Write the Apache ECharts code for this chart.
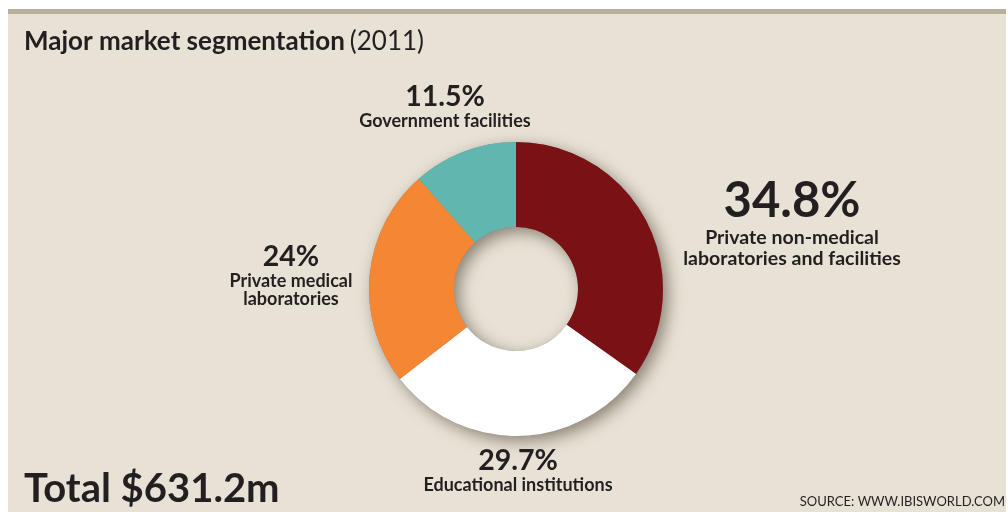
<!DOCTYPE html>
<html>
<head>
<meta charset="utf-8">
<script src="https://cdn.jsdelivr.net/npm/echarts@6/dist/echarts.min.js"></script>
<style>
  html, body { margin: 0; padding: 0; background: #ffffff; }
  #chart { width: 1008px; height: 514px; }
</style>
</head>
<body>
<div id="chart"></div>
<script>
// Market segments, shares in percent (2011)
const segments = ['Private non-medical\nlaboratories and facilities', 'Educational institutions', 'Private medical\nlaboratories', 'Government facilities'];
const shares = [34.8, 29.7, 24, 11.5];
const segmentColors = ['#7a1114', '#ffffff', '#f58634', '#62b6b0'];
const totalLabel = 'Total $631.2m';
const sourceLabel = 'SOURCE: WWW.IBISWORLD.COM';

// Where each segment's label block sits (top-centre, in pixels)
const labelAnchors = [[792, 175], [518, 446], [291, 242], [445, 82]];
// Which label blocks use the large type
const largeLabel = [true, false, false, false];

const FONT = 'Lato, "Open Sans", sans-serif';
const INK = '#231f20';
const CX = 516, CY = 289, R_IN = 62, R_OUT = 147;

const chart = echarts.init(document.getElementById('chart'), null, { renderer: 'canvas' });

chart.setOption({
  animation: false,
  backgroundColor: '#ffffff',
  graphic: [
    { type: 'rect', z: -10, shape: { x: 8, y: 9, width: 998, height: 503 }, style: { fill: '#e8e2d6' } },
    { type: 'rect', z: -9, shape: { x: 8, y: 9, width: 998, height: 5 }, style: { fill: '#b8b09c' } },
    {
      type: 'text', left: 24, top: 469,
      style: { text: totalLabel, font: 'bold 40px ' + FONT, fill: INK }
    },
    {
      type: 'text', right: 3, top: 495,
      style: { text: sourceLabel, font: '13px ' + FONT, fill: INK }
    }
  ],
  title: {
    left: 19, top: 24,
    text: '{b|Major market segmentation} {r|(2011)}',
    textStyle: {
      rich: {
        b: { fontFamily: FONT, fontWeight: 'bold', fontSize: 26, color: INK },
        r: { fontFamily: FONT, fontWeight: 'normal', fontSize: 26, color: INK }
      }
    }
  },
  series: [
    {
      // ring casting the soft drop shadow under the donut
      type: 'pie', silent: true, z: 1,
      center: [CX, CY], radius: [R_IN, R_OUT],
      label: { show: false }, labelLine: { show: false },
      itemStyle: {
        color: '#8c8576',
        shadowBlur: 16, shadowOffsetX: 5, shadowOffsetY: 5,
        shadowColor: 'rgba(60,50,35,0.55)'
      },
      data: [{ value: 1 }]
    },
    {
      type: 'pie', silent: true, z: 2,
      center: [CX, CY], radius: [R_IN, R_OUT],
      startAngle: 90, clockwise: true,
      itemStyle: { borderWidth: 0 },
      labelLine: { show: false },
      label: {
        show: true, position: 'outside', align: 'center',
        formatter: p => largeLabel[p.dataIndex]
          ? '{pb|' + p.value + '%}\n{nb|' + p.name + '}'
          : '{p|' + p.value + '%}\n{n|' + p.name + '}',
        rich: {
          pb: { fontFamily: FONT, fontWeight: 'bold', fontSize: 49, lineHeight: 52, color: INK, align: 'center' },
          nb: { fontFamily: FONT, fontWeight: 'bold', fontSize: 19.5, lineHeight: 21, color: INK, align: 'center' },
          p: { fontFamily: FONT, fontWeight: 'bold', fontSize: 28.5, lineHeight: 30, color: INK, align: 'center' },
          n: { fontFamily: FONT, fontWeight: 'bold', fontSize: 18, lineHeight: 18, color: INK, align: 'center' }
        }
      },
      labelLayout: p => ({
        x: labelAnchors[p.dataIndex][0],
        y: labelAnchors[p.dataIndex][1],
        align: 'center',
        verticalAlign: 'top'
      }),
      data: shares.map((v, i) => ({
        value: v, name: segments[i], itemStyle: { color: segmentColors[i] }
      }))
    }
  ]
});
</script>
</body>
</html>
